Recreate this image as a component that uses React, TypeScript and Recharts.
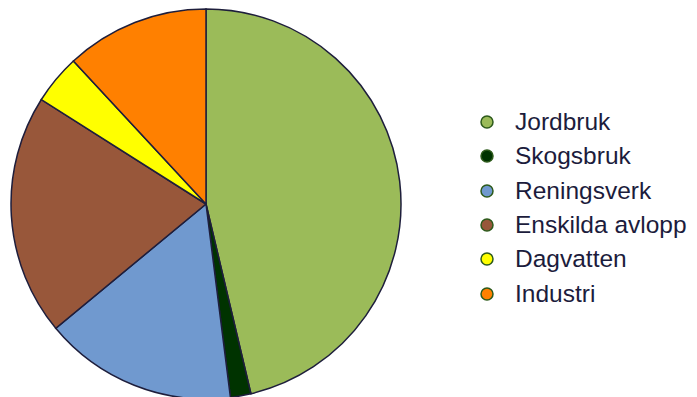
import React from 'react';
import { PieChart, Pie, Cell, Legend } from 'recharts';

const categories = ['Jordbruk', 'Skogsbruk', 'Reningsverk', 'Enskilda avlopp', 'Dagvatten', 'Industri'];
const values = [46.3, 1.7, 16.0, 20.0, 4.1, 11.9];
const colors = ['#9BBB59', '#003300', '#7099CF', '#98573A', '#FFFF00', '#FF8000'];

const data = categories.map((name, i) => ({ name, value: values[i] }));

const renderLegend = () => (
  <div style={{ fontFamily: 'Liberation Sans, Arial, sans-serif' }}>
    {categories.map((c, i) => (
      <div key={c} style={{ display: 'flex', alignItems: 'center', height: 34.3 }}>
        <svg width={28} height={16} style={{ flex: 'none' }}>
          <circle cx={12} cy={8} r={6} fill={colors[i]} stroke="#2d5a1b" strokeWidth={1.5} />
        </svg>
        <span style={{ fontSize: 24.5, color: '#1c1c3c', marginLeft: 12, whiteSpace: 'nowrap' }}>{c}</span>
      </div>
    ))}
  </div>
);

export default function App() {
  return (
    <div style={{ position: 'absolute', left: 0, top: 0, width: 697, height: 397, background: '#fff', overflow: 'hidden' }}>
      <PieChart width={697} height={397} margin={{ top: 0, right: 0, bottom: 0, left: 0 }}>
        <Pie
          data={data}
          dataKey="value"
          nameKey="name"
          cx={206}
          cy={204}
          outerRadius={195}
          startAngle={90}
          endAngle={-270}
          stroke="#1e1e3c"
          strokeWidth={1.5}
          isAnimationActive={false}
        >
          {data.map((d, i) => (
            <Cell key={d.name} fill={colors[i]} />
          ))}
        </Pie>
        <Legend
          layout="vertical"
          content={renderLegend}
          wrapperStyle={{ position: 'absolute', left: 475, top: 105, width: 222 }}
        />
      </PieChart>
    </div>
  );
}
